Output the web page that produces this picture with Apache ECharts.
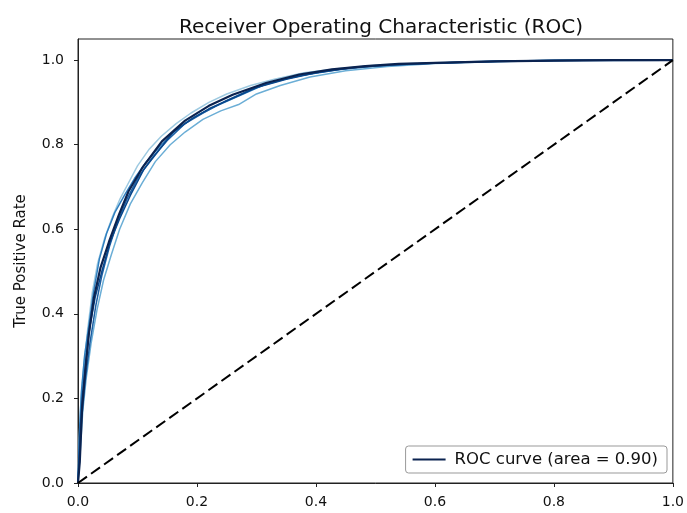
<!DOCTYPE html>
<html>
<head>
<meta charset="utf-8">
<script src="https://cdn.jsdelivr.net/npm/echarts@6/dist/echarts.min.js"></script>
<style>
  html, body { margin: 0; padding: 0; background: #fff; }
  #main { width: 687px; height: 513px; }
</style>
</head>
<body>
<div id="main"></div>
<script>
// tick labels
var xTicks = [0, 0.2, 0.4, 0.6, 0.8, 1.0];
var yTicks = [0, 0.2, 0.4, 0.6, 0.8, 1.0];

// per-fold roc curves, [fpr, tpr]
var fold1 = [[0,0],[0.002,0.1],[0.005,0.2],[0.01,0.28],[0.016,0.36],[0.024,0.45],[0.033,0.52],[0.045,0.58],[0.058,0.63],[0.07,0.67],[0.085,0.71],[0.1,0.75],[0.12,0.79],[0.14,0.82],[0.165,0.85],[0.19,0.875],[0.22,0.9],[0.25,0.92],[0.29,0.94],[0.33,0.955],[0.38,0.97],[0.44,0.98],[0.5,0.988],[0.58,0.993],[0.68,0.997],[0.8,1.0],[1,1]];
var fold2 = [[0,0],[0.004,0.08],[0.008,0.17],[0.014,0.25],[0.022,0.33],[0.032,0.41],[0.043,0.48],[0.056,0.54],[0.07,0.6],[0.088,0.66],[0.108,0.71],[0.13,0.76],[0.155,0.8],[0.18,0.83],[0.21,0.86],[0.24,0.88],[0.27,0.895],[0.3,0.92],[0.34,0.94],[0.39,0.96],[0.45,0.975],[0.52,0.985],[0.6,0.992],[0.7,0.996],[0.82,1.0],[1,1]];
var fold3 = [[0,0],[0.003,0.14],[0.006,0.22],[0.011,0.3],[0.018,0.37],[0.026,0.45],[0.036,0.53],[0.048,0.59],[0.062,0.64],[0.078,0.68],[0.095,0.72],[0.115,0.76],[0.14,0.8],[0.165,0.835],[0.195,0.865],[0.23,0.89],[0.27,0.915],[0.31,0.94],[0.36,0.96],[0.42,0.975],[0.48,0.985],[0.56,0.991],[0.66,0.996],[0.78,0.999],[1,1]];
var fold4 = [[0,0],[0.002,0.06],[0.006,0.15],[0.012,0.24],[0.02,0.33],[0.03,0.42],[0.04,0.49],[0.053,0.56],[0.067,0.62],[0.082,0.67],[0.1,0.72],[0.125,0.77],[0.15,0.81],[0.18,0.85],[0.21,0.875],[0.25,0.905],[0.29,0.93],[0.33,0.95],[0.38,0.965],[0.44,0.978],[0.5,0.986],[0.58,0.992],[0.68,0.996],[0.8,0.999],[1,1]];
var fold5 = [[0,0],[0.003,0.11],[0.007,0.2],[0.013,0.29],[0.02,0.37],[0.029,0.44],[0.04,0.5],[0.054,0.57],[0.07,0.625],[0.088,0.68],[0.11,0.74],[0.135,0.785],[0.16,0.83],[0.19,0.86],[0.22,0.885],[0.26,0.91],[0.3,0.935],[0.35,0.955],[0.4,0.97],[0.46,0.982],[0.53,0.989],[0.62,0.994],[0.72,0.998],[0.85,1.0],[1,1]];
var foldColors = ['#9ecae1', '#6baed6', '#2f7fc0', '#1c5fa3', '#08468a'];

// mean curve
var rocFpr = [0, 0.003, 0.007, 0.012, 0.018, 0.027, 0.038, 0.052, 0.069, 0.085, 0.108, 0.141, 0.18, 0.22, 0.26, 0.316, 0.372, 0.427, 0.483, 0.539, 0.617, 0.7, 0.8, 0.9, 1.0];
var rocTpr = [0, 0.05, 0.18, 0.26, 0.35, 0.44, 0.51, 0.57, 0.635, 0.69, 0.745, 0.808, 0.857, 0.892, 0.918, 0.946, 0.966, 0.978, 0.986, 0.991, 0.994, 0.997, 0.999, 1.0, 1.0];
var rocName = 'ROC curve (area = 0.90)';

var chanceLine = [[0, 0], [1, 1]];

var myChart = echarts.init(document.getElementById('main'));

var series = [];
var folds = [fold1, fold2, fold3, fold4, fold5];
for (var i = 0; i < folds.length; i++) {
    series.push({
        name: 'fold' + (i + 1),
        type: 'line',
        data: folds[i],
        symbol: 'none',
        silent: true,
        lineStyle: { color: foldColors[i], width: 1.5 },
        z: 2
    });
}
var rocData = [];
for (var j = 0; j < rocFpr.length; j++) {
    rocData.push([rocFpr[j], rocTpr[j]]);
}
series.push({
    name: rocName,
    type: 'line',
    data: rocData,
    symbol: 'none',
    lineStyle: { color: '#0b2350', width: 2.2 },
    itemStyle: { color: '#0b2350' },
    z: 3
});
series.push({
    name: 'chance',
    type: 'line',
    data: chanceLine,
    symbol: 'none',
    lineStyle: { color: '#000', width: 2, type: [11, 5] },
    z: 4
});

var font = 'DejaVu Sans';
var option = {
    backgroundColor: '#fff',
    animation: false,
    title: {
        text: 'Receiver Operating Characteristic (ROC)',
        left: 376,
        textAlign: 'center',
        top: 13,
        textStyle: { fontFamily: font, fontSize: 20, fontWeight: 'normal', color: '#111' }
    },
    legend: {
        data: [{ name: rocName, icon: 'rect' }],
        right: 20,
        bottom: 40,
        padding: [5, 9, 5, 7],
        itemWidth: 33,
        itemHeight: 2,
        itemGap: 0,
        borderColor: '#999',
        borderWidth: 1,
        borderRadius: 3,
        textStyle: { fontFamily: font, fontSize: 16.5, color: '#111', padding: [0, 0, 0, 4] }
    },
    grid: {
        left: 78,
        right: 12,
        top: 39,
        bottom: 30,
        show: true,
        borderColor: '#222',
        borderWidth: 1
    },
    xAxis: {
        type: 'value',
        min: 0,
        max: 1,
        interval: 0.2,
        splitLine: { show: false },
        axisLine: { lineStyle: { color: '#222', width: 1 } },
        axisTick: { show: true, length: 4, customValues: xTicks, lineStyle: { color: '#222' } },
        axisLabel: {
            customValues: xTicks,
            margin: 12,
            fontFamily: font,
            fontSize: 14,
            color: '#111',
            formatter: function (v) { return v.toFixed(1); }
        }
    },
    yAxis: {
        type: 'value',
        min: 0,
        max: 1.05,
        interval: 0.2,
        name: 'True Positive Rate',
        nameLocation: 'middle',
        nameGap: 49,
        nameTextStyle: { fontFamily: font, fontSize: 15, color: '#111' },
        splitLine: { show: false },
        axisLine: { show: true, lineStyle: { color: '#222', width: 1 } },
        axisTick: { show: true, length: 4, customValues: yTicks, lineStyle: { color: '#222' } },
        axisLabel: {
            customValues: yTicks,
            margin: 14,
            fontFamily: font,
            fontSize: 14,
            color: '#111',
            formatter: function (v) { return v.toFixed(1); }
        }
    },
    series: series
};
myChart.setOption(option);
</script>
</body>
</html>
